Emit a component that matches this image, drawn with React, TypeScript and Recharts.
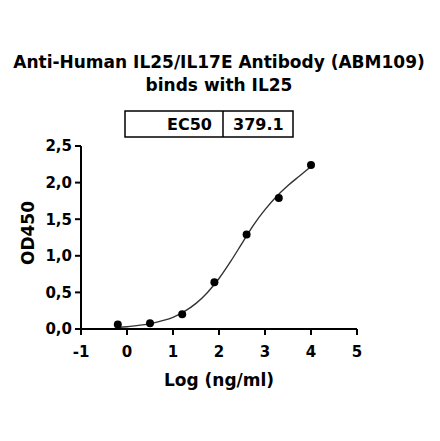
import React from 'react';
import {
  ComposedChart,
  Line,
  Scatter,
  XAxis,
  YAxis,
} from 'recharts';

// measured points (log concentration vs OD450)
const logConc = [-0.2, 0.5, 1.2, 1.9, 2.6, 3.3, 4.0];
const od450 = [0.06, 0.08, 0.2, 0.64, 1.29, 1.79, 2.24];

// fitted curve
const fitX = [-0.2, 0, 0.25, 0.5, 0.75, 1.0, 1.25, 1.5, 1.75, 2.0, 2.25, 2.5, 2.75, 3.0, 3.25, 3.5, 3.75, 4.0];
const fitY = [0.02, 0.03, 0.05, 0.07, 0.11, 0.16, 0.24, 0.35, 0.5, 0.69, 0.92, 1.17, 1.42, 1.63, 1.81, 1.96, 2.09, 2.22];

const xTicks = [-1, 0, 1, 2, 3, 4, 5];
const yTicks = [0, 0.5, 1.0, 1.5, 2.0, 2.5];

const ec50Label = 'EC50';
const ec50Value = '379.1';

const FONT = '"DejaVu Sans", sans-serif';

const points = logConc.map((x, i) => ({ x, y: od450[i] }));
const curve = fitX.map((x, i) => ({ x, y: fitY[i] }));

const tickStyle = { fontFamily: FONT, fontWeight: 700, fontSize: 15, fill: '#000' };

export default function App() {
  return (
    <div style={{ position: 'absolute', left: 0, top: 0, width: 440, height: 441, background: '#fff' }}>
      <ComposedChart
        width={440}
        height={441}
        margin={{ top: 146, right: 83, bottom: 52, left: 0 }}
      >
        <XAxis
          type="number"
          dataKey="x"
          domain={[-1, 5]}
          ticks={xTicks}
          allowDataOverflow
          height={60}
          tickSize={6}
          tickMargin={11}
          tick={tickStyle}
          axisLine={{ stroke: '#000', strokeWidth: 2 }}
          tickLine={{ stroke: '#000', strokeWidth: 2 }}
        />
        <YAxis
          type="number"
          dataKey="y"
          domain={[0, 2.5]}
          ticks={yTicks}
          width={81}
          tickSize={6}
          tickMargin={3}
          tick={tickStyle}
          tickFormatter={(v: number) => v.toFixed(1).replace('.', ',')}
          axisLine={{ stroke: '#000', strokeWidth: 2 }}
          tickLine={{ stroke: '#000', strokeWidth: 2 }}
        />
        <Line
          data={curve}
          dataKey="y"
          type="monotone"
          stroke="#333"
          strokeWidth={1.4}
          dot={false}
          activeDot={false}
          isAnimationActive={false}
        />
        <Scatter
          data={points}
          dataKey="y"
          fill="#000"
          isAnimationActive={false}
          shape={(p: any) => <circle cx={p.cx} cy={p.cy} r={4} fill="#000" />}
        />
      </ComposedChart>

      <svg
        width={440}
        height={441}
        style={{ position: 'absolute', left: 0, top: 0, pointerEvents: 'none' }}
      >
        <g fontFamily={FONT} fontWeight={700} fill="#000">
          <text x={219} y={68} fontSize={17} textAnchor="middle">
            Anti-Human IL25/IL17E Antibody (ABM109)
          </text>
          <text x={219} y={91} fontSize={17} textAnchor="middle">
            binds with IL25
          </text>

          <rect x={125} y={111} width={168} height={26} fill="#fff" stroke="#000" strokeWidth={1.5} />
          <line x1={223} y1={111} x2={223} y2={137} stroke="#000" strokeWidth={1.5} />
          <text x={212} y={130} fontSize={16} textAnchor="end">{ec50Label}</text>
          <text x={233} y={130} fontSize={16}>{ec50Value}</text>

          <text x={219} y={386} fontSize={17} textAnchor="middle">Log (ng/ml)</text>
          <text
            x={34}
            y={233}
            fontSize={17}
            textAnchor="middle"
            transform="rotate(-90 34 233)"
          >
            OD450
          </text>
        </g>
      </svg>
    </div>
  );
}
